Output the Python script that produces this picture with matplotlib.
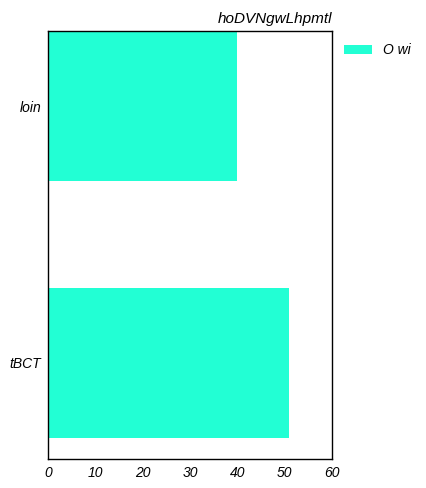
import matplotlib
matplotlib.use("Agg")
import matplotlib.pyplot as plt

categories = ["tBCT", "loin"]
values = [50.9, 39.9]
series_name = "O wi"
title = "hoDVNgwLhpmtl"
xticks = [0, 10, 20, 30, 40, 50, 60]

plt.rcParams['font.family'] = ['Liberation Sans', 'DejaVu Sans']
plt.rcParams['font.style'] = 'italic'

fig = plt.figure(figsize=(4.27, 4.88), dpi=100)
ax = fig.add_axes([0.1124, 0.0594, 0.6651, 0.8771])
ax.barh(range(len(categories)), values, height=0.584, color="#22FFD4", label=series_name)
ax.set_yticks(range(len(categories)))
ax.set_yticklabels(categories, fontsize=10, fontstyle='italic')
ax.set_xticks(xticks)
ax.set_xticklabels([str(t) for t in xticks], fontsize=10, fontstyle='italic')
ax.set_xlim(0, 60)
ax.set_ylim(-0.374, 1.292)
ax.tick_params(axis='x', length=0, pad=5)
ax.tick_params(axis='y', length=0, pad=5)
for s in ax.spines.values():
    s.set_linewidth(1.0)
ax.set_title(title, loc='right', fontsize=11, fontstyle='italic', pad=6)
leg = ax.legend(loc='upper left', bbox_to_anchor=(1.0, 1.0), frameon=False,
                fontsize=10, handlelength=2.0, handleheight=0.7, handletextpad=0.8)
for t in leg.get_texts():
    t.set_fontstyle('italic')
fig.savefig("out.png", dpi=100)
